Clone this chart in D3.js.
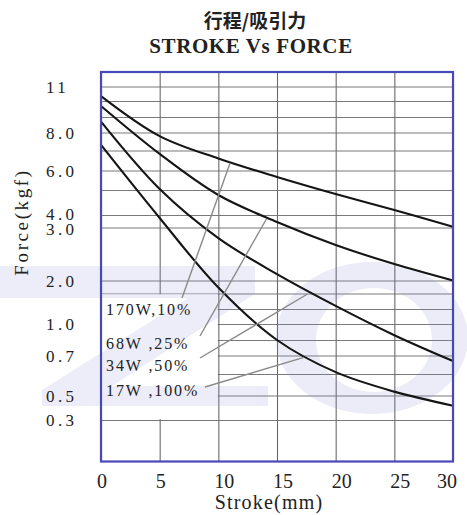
<!DOCTYPE html>
<html><head><meta charset="utf-8">
<script src="https://cdn.jsdelivr.net/npm/d3@7"></script>
<style>body{margin:0;background:#fff}svg{display:block}</style>
</head><body><svg id="c" width="467" height="515"></svg>
<script>
// ---------- data ----------
const strokeValues = [0, 5, 10, 15, 20, 25, 30];
const seriesNames = ["170W,10%", "68W ,25%", "34W ,50%", "17W ,100%"];
const force170W = [10.34, 7.80, 6.60, 5.67, 4.84, 4.20, 3.06];
const force68W  = [9.69, 6.83, 4.80, 3.44, 2.67, 2.31, 2.00];
const force34W  = [8.70, 5.05, 2.80, 2.12, 1.26, 0.86, 0.67];
const force17W  = [7.31, 3.76, 1.73, 0.80, 0.61, 0.518, 0.417];
const xTickLabels = ["0", "5", "10", "15", "20", "25", "30"];
const yGridValues = [11, 10, 9, 8, 7, 6, 5, 4, 3, 2, 1.5, 1.2, 1.0, 0.8, 0.7, 0.6, 0.5, 0.3];
const yTickLabels = ["11", "", "", "8.0", "", "6.0", "", "4.0", "3.0", "2.0", "", "", "1.0", "", "0.7", "", "0.5", "0.3"];
const leaderStroke = [11.0, 14.1, 17.6, 17.3];
const leaderForce  = [6.38, 3.68, 1.49, 0.69];
const titleCN = "行程/吸引力";
const titleEN = "STROKE Vs FORCE";
const xTitle = "Stroke(mm)";
const yTitle = "Force(kgf)";

// ---------- layout ----------
const L = 101, R = 453, T = 72, B = 461.5;
const yGridPos = [86.5, 101, 117, 132.5, 150.5, 170.5, 190, 215, 227.5, 280.5, 293.5, 309, 324, 340, 355.5, 374, 395.5, 420];
const labelAnchors = [[182, 298], [200, 336], [200, 358], [205, 387]];
const labelBaselines = [315, 349, 371, 396];
const serif = "'Liberation Serif','DejaVu Serif',serif";

const svg = d3.select("#c");
svg.append("rect").attr("width", 467).attr("height", 515).attr("fill", "#fff");

const x = d3.scaleLinear().domain([0, 30]).range([L, R]);
const y = d3.scaleLinear().domain(yGridValues).range(yGridPos);

// grid: horizontal
const gy = svg.append("g").attr("transform", `translate(${L},0)`)
  .call(d3.axisLeft(y).tickValues(yGridValues).tickSize(-(R - L)).tickFormat(""));
gy.select(".domain").remove();
gy.selectAll(".tick line").attr("stroke", "#7a7a7a").attr("stroke-width", 1.1);

// grid: vertical
const gx = svg.append("g").attr("transform", `translate(0,${B})`)
  .call(d3.axisBottom(x).tickValues(strokeValues).tickSize(-(B - T)).tickFormat(""));
gx.select(".domain").remove();
gx.selectAll(".tick line").attr("stroke", "#6a6a6a").attr("stroke-width", 1.1);

// white box behind the series labels
svg.append("rect").attr("x", L).attr("y", y(1.5) + 0.8)
  .attr("width", x(10) - L - 0.6).attr("height", y(0.3) - y(1.5) - 1.6).attr("fill", "#fff");

// watermark
const wm = svg.append("g").attr("fill", "#8c8cda").attr("opacity", 0.16);
wm.append("path").attr("d", "M0,266 L255,266 L255,294 L112,386 L268,386 L268,406 L42,406 L42,390 L188,298 L0,298 Z");
const oRing = (cx, cy, rx, ry) => `M${cx - rx},${cy} a${rx},${ry} 0 1,0 ${2 * rx},0 a${rx},${ry} 0 1,0 ${-2 * rx},0 Z`;
wm.append("path").attr("fill-rule", "evenodd")
  .attr("d", oRing(372, 338, 96, 76) + " " + oRing(374, 340, 58, 52));

// curves
const allSeries = [force170W, force68W, force34W, force17W];
const line = d3.line().x((d, i) => x(strokeValues[i])).y(d => y(d)).curve(d3.curveCatmullRom.alpha(0.5));
svg.append("g").selectAll("path").data(allSeries).join("path")
  .attr("d", line).attr("fill", "none").attr("stroke", "#151515").attr("stroke-width", 2.1);

// leader lines
svg.append("g").selectAll("line").data(seriesNames).join("line")
  .attr("x1", (d, i) => labelAnchors[i][0]).attr("y1", (d, i) => labelAnchors[i][1])
  .attr("x2", (d, i) => x(leaderStroke[i])).attr("y2", (d, i) => y(leaderForce[i]))
  .attr("stroke", "#8a8a8a").attr("stroke-width", 1.4);

// series labels
svg.append("g").selectAll("text").data(seriesNames).join("text")
  .attr("x", 106).attr("y", (d, i) => labelBaselines[i])
  .attr("font-family", serif).attr("font-size", 16).attr("letter-spacing", 1.9)
  .attr("fill", "#222").attr("xml:space", "preserve").style("white-space", "pre").text(d => d);

// frame
svg.append("rect").attr("x", L).attr("y", T).attr("width", R - L).attr("height", B - T)
  .attr("fill", "none").attr("stroke", "#4848b8").attr("stroke-width", 2.2);

// y tick labels
const yLabelNudge = {4: -1, 3: 1};
svg.append("g").selectAll("text").data(yGridValues.filter((d, i) => yTickLabels[i] !== "")).join("text")
  .attr("x", 46).attr("y", d => y(d) + 6 + (yLabelNudge[d] || 0))
  .attr("font-family", serif).attr("font-size", 17).attr("letter-spacing", 3.4)
  .attr("fill", "#222").text(d => yTickLabels[yGridValues.indexOf(d)]);

// x tick labels
svg.append("g").selectAll("text").data(strokeValues).join("text")
  .attr("x", (d, i) => i === strokeValues.length - 1 ? x(d) + 4 : x(d) - 4)
  .attr("text-anchor", (d, i) => i === strokeValues.length - 1 ? "end" : "start")
  .attr("y", 488).attr("font-family", serif).attr("font-size", 20)
  .attr("fill", "#222").text((d, i) => xTickLabels[i]);

// axis titles
svg.append("text").attr("x", 269).attr("y", 509).attr("text-anchor", "middle")
  .attr("font-family", serif).attr("font-size", 20).attr("letter-spacing", 1.2)
  .attr("fill", "#222").text(xTitle);
svg.append("text").attr("transform", "translate(28,222) rotate(-90)").attr("text-anchor", "middle")
  .attr("font-family", serif).attr("font-size", 19).attr("letter-spacing", 2.6)
  .attr("fill", "#222").text(yTitle);

// titles
svg.append("text").attr("x", 255).attr("y", 28).attr("text-anchor", "middle")
  .attr("font-family", "'Noto Sans CJK SC',sans-serif").attr("font-weight", "bold").attr("font-size", 19)
  .attr("fill", "#222").text(titleCN);
svg.append("text").attr("x", 251).attr("y", 53).attr("text-anchor", "middle")
  .attr("font-family", serif).attr("font-weight", "bold").attr("font-size", 21).attr("letter-spacing", 0.6)
  .attr("fill", "#222").text(titleEN);
</script></body></html>
